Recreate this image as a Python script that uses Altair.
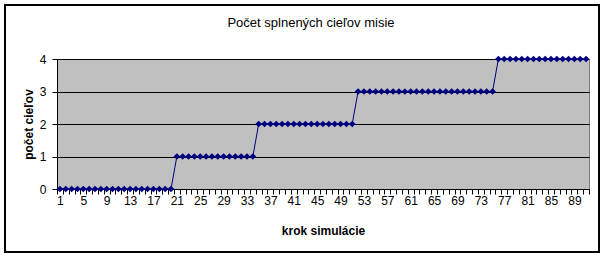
import altair as alt
import pandas as pd

steps = list(range(1, 92))
# number of fulfilled mission goals at each simulation step
goals = [0] * 20 + [1] * 14 + [2] * 17 + [3] * 24 + [4] * 16

df = pd.DataFrame({"krok": steps, "ciele": goals})

FONT = "Liberation Sans"
NAVY = "#000080"

x_enc = alt.X(
    "krok:O",
    bandPosition=0.5,
    scale=alt.Scale(type="band", paddingInner=0, paddingOuter=0),
    axis=alt.Axis(
        title="krok simulácie",
        titleFont=FONT, titleFontSize=12, titleFontWeight="bold", titleColor="#000000",
        titleX=266, titleY=41, titleBaseline="middle", titleAlign="center",
        labelExpr="(datum.value - 1) % 4 == 0 ? datum.label : ''",
        labelAngle=0, labelOverlap=False, labelFont=FONT, labelFontSize=12,
        labelColor="#000000", labelPadding=6, labelBaseline="middle",
        tickBand="extent", tickSize=5, tickColor="#000000",
        domainColor="#000000", grid=False,
    ),
)

y_enc = alt.Y(
    "ciele:Q",
    scale=alt.Scale(domain=[0, 4], nice=False, zero=True),
    axis=alt.Axis(
        title="počet cieľov",
        titleFont=FONT, titleFontSize=12, titleFontWeight="bold", titleColor="#000000",
        titleX=-29, titleY=65, titleAngle=-90, titleBaseline="middle", titleAlign="center",
        values=[0, 1, 2, 3, 4], format="d",
        labelFont=FONT, labelFontSize=12, labelColor="#000000", labelPadding=6,
        tickSize=5, tickColor="#000000", domainColor="#000000",
        grid=True, gridColor="#000000", gridWidth=1, gridOpacity=1,
    ),
)

line = alt.Chart(df).mark_line(
    color=NAVY, strokeWidth=1,
    point=alt.OverlayMarkDef(shape="diamond", filled=True, color=NAVY, size=45, opacity=1),
).encode(x=x_enc, y=y_enc)

border = alt.Chart(df).mark_rect(
    fill="transparent", stroke="#000000", strokeWidth=1.5, clip=False
).encode(
    x=alt.value(-52), x2=alt.value(542), y=alt.value(-54), y2=alt.value(193)
)

chart = alt.layer(line, border).properties(
    width=532,
    height=130,
    title=alt.TitleParams(
        "Počet splnených cieľov misie",
        font=FONT, fontSize=13, fontWeight="normal", color="#000000",
        anchor="middle", dx=-12, dy=30, offset=4,
    ),
    autosize=alt.AutoSizeParams(type="none"),
    padding={"left": 57, "top": 59, "right": 16, "bottom": 69},
).configure(
    background="#FFFFFF"
).configure_view(
    fill="#C0C0C0", stroke="#808080", strokeWidth=1
)

chart.save("out.html", embed_options={"renderer": "svg", "actions": False})
